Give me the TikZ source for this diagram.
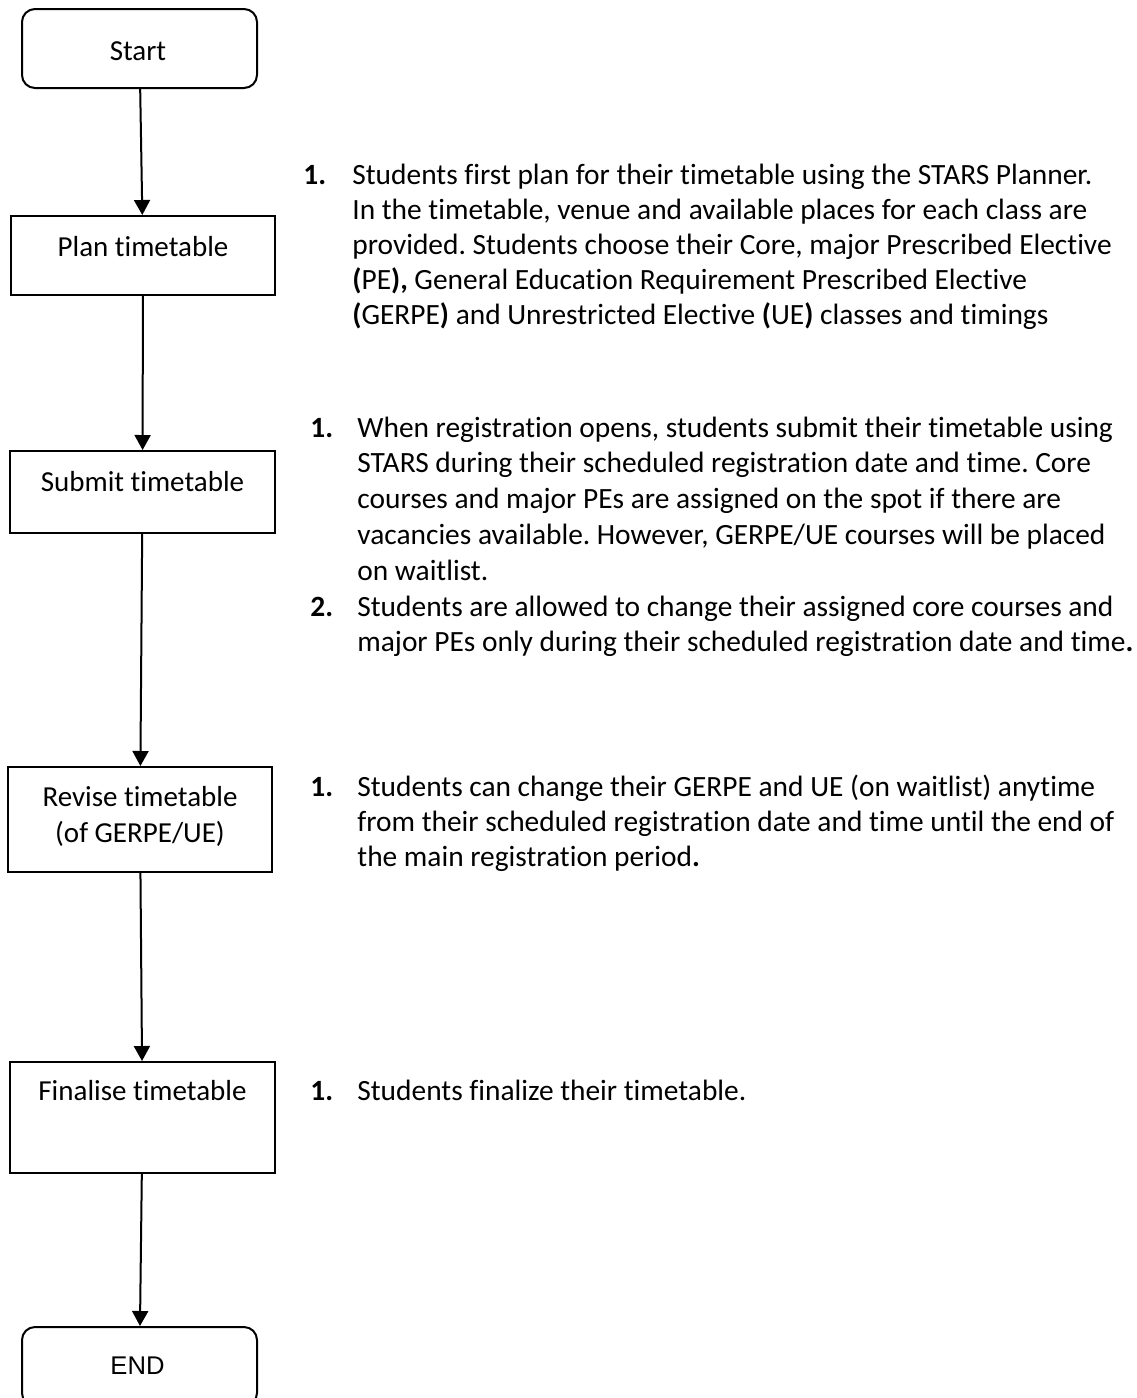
\documentclass[tikz,border=0pt]{standalone}
\usepackage{fontspec}
\setmainfont{Carlito}[Ligatures=NoCommon]
\newfontfamily\arialfont{Liberation Sans}
\usetikzlibrary{arrows.meta}
\frenchspacing
\begin{document}
\begin{tikzpicture}[x=0.5pt,y=-0.5pt,
  box/.style={draw, line width=1pt, inner sep=0pt},
  term/.style={box, rounded corners=6.5pt},
  lbl/.style={anchor=base, inner sep=0pt, font=\fontsize{14.5}{18}\selectfont},
  arr/.style={line width=1pt, -{Triangle[length=7.5pt,width=8pt]}},
  body/.style={anchor=base west, inner sep=0pt}
]
\useasboundingbox (0,0) rectangle (1136,1398);
% boxes
\node[term, minimum width=117.5pt, minimum height=39.5pt] (start) at (139.5,48.5) {};
\node[box, minimum width=132pt, minimum height=39.5pt] (plan) at (143,255.5) {};
\node[box, minimum width=132.5pt, minimum height=41pt] (submit) at (142.5,492) {};
\node[box, minimum width=132pt, minimum height=52.5pt] (revise) at (140,819.5) {};
\node[box, minimum width=132.5pt, minimum height=55.5pt] (finalise) at (142.5,1117.5) {};
\node[term, minimum width=117.5pt, minimum height=39.5pt] (end) at (139.5,1366.5) {};
% box labels
\node[lbl] (starttxt) at (138,60) {Start};
\node[lbl] (plantxt) at (143,256) {Plan timetable};
\node[lbl] (submittxt) at (142.5,491) {Submit timetable};
\node[lbl] (revisetxt) at (140,806) {\begin{tabular}[t]{@{}c@{}}Revise timetable\\(of GERPE/UE)\end{tabular}};
\node[lbl] (finalisetxt) at (142.5,1100) {Finalise timetable};
\node[anchor=base, inner sep=0pt, font=\arialfont\fontsize{12.8}{15}\selectfont] (endtxt) at (137.5,1374) {END};
% connectors
\draw[arr] (start) -- (plan);
\draw[arr] (plan) -- (submit);
\draw[arr] (submit) -- (revise);
\draw[arr] (revise) -- (finalise);
\draw[arr] (finalise) -- (end);
% descriptions
\node[body, font=\fontsize{14.7}{17.5}\selectfont] (desc1) at (303,184) {\begin{tabular}[t]{@{}p{24.5pt}@{}l@{}}
\textbf{1.} & Students first plan for their timetable using the STARS Planner.\\
 & In the timetable, venue and available places for each class are\\
 & provided. Students choose their Core, major Prescribed Elective\\
 & \textbf{(}PE\textbf{),} General Education Requirement Prescribed Elective\\
 & \textbf{(}GERPE\textbf{)} and Unrestricted Elective \textbf{(}UE\textbf{)} classes and timings
\end{tabular}};
\node[body, font=\fontsize{14.7}{17.9}\selectfont] (desc2) at (310,437) {\begin{tabular}[t]{@{}p{23.5pt}@{}l@{}}
\textbf{1.} & When registration opens, students submit their timetable using\\
 & STARS during their scheduled registration date and time. Core\\
 & courses and major PEs are assigned on the spot if there are\\
 & vacancies available. However, GERPE/UE courses will be placed\\
 & on waitlist.\\
\textbf{2.} & Students are allowed to change their assigned core courses and\\
 & major PEs only during their scheduled registration date and time\textbf{.}
\end{tabular}};
\node[body, font=\fontsize{14.7}{17.6}\selectfont] (desc3) at (310,796) {\begin{tabular}[t]{@{}p{23.5pt}@{}l@{}}
\textbf{1.} & Students can change their GERPE and UE (on waitlist) anytime\\
 & from their scheduled registration date and time until the end of\\
 & the main registration period\textbf{.}
\end{tabular}};
\node[body, font=\fontsize{14.7}{17.6}\selectfont] (desc4) at (310,1100) {\begin{tabular}[t]{@{}p{23.5pt}@{}l@{}}
\textbf{1.} & Students finalize their timetable.
\end{tabular}};
\end{tikzpicture}
\end{document}
